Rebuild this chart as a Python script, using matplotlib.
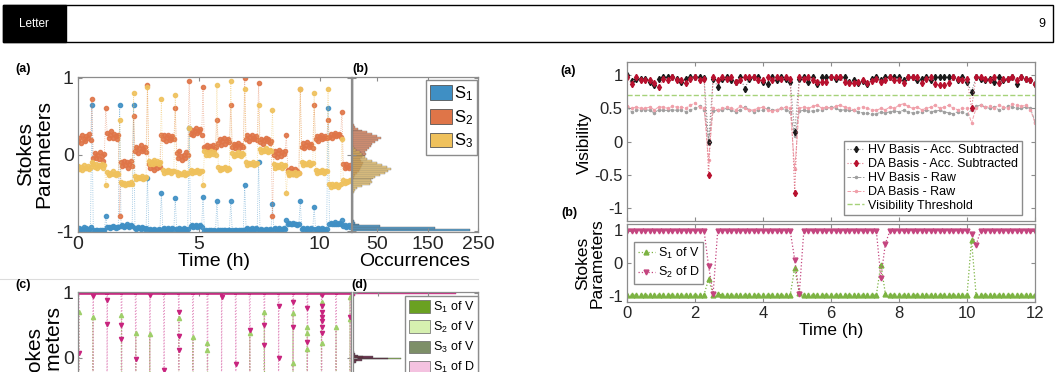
import numpy as np
import matplotlib
matplotlib.use("Agg")
import matplotlib.pyplot as plt
from matplotlib.patches import Rectangle, Patch
from matplotlib.lines import Line2D

plt.rcParams["font.family"] = ["Liberation Sans", "DejaVu Sans"]
plt.rcParams["mathtext.default"] = "regular"
plt.rcParams["axes.unicode_minus"] = False

W, H = 1058, 372

# ---------------- left (a): Stokes parameters over time (10 samples per setting)
step_a = 0.0575
s1 = [
    -0.98, -0.96, -0.97, -0.99, -0.95, -0.97, -0.96, -0.98, -0.97, -0.95,
    0.64, -0.99, -1.0, -0.98, -0.99, -1.0, -0.98, -0.99, -1.0, -0.99,
    -0.8, -0.95, -0.94, -0.96, -0.95, -0.93, -0.95, -0.96, -0.94, -0.95,
    0.64, -0.93, -0.92, -0.94, -0.93, -0.91, -0.93, -0.94, -0.92, -0.93,
    0.65, -0.96, -0.97, -0.95, -0.96, -0.97, -0.95, -0.96, -0.97, -0.96,
    -0.3, -0.98, -0.97, -0.99, -0.98, -0.97, -0.99, -0.98, -0.97, -0.98,
    -0.5, -0.97, -0.96, -0.98, -0.97, -0.96, -0.98, -0.97, -0.96, -0.97,
    -0.57, -0.97, -0.98, -0.96, -0.97, -0.98, -0.96, -0.97, -0.98, -0.97,
    0.35, -0.93, -0.92, -0.94, -0.93, -0.92, -0.94, -0.93, -0.92, -0.94,
    -0.55, -1.0, -0.99, -1.0, -0.99, -1.0, -0.99, -1.0, -0.99, -1.0,
    -0.6, -0.99, -0.98, -1.0, -0.99, -0.98, -0.99, -1.0, -0.98, -0.99,
    -0.6, -0.99, -1.0, -0.98, -0.99, -1.0, -0.98, -0.99, -1.0, -0.99,
    -0.4, -0.97, -0.96, -0.98, -0.97, -0.96, -0.98, -0.97, -0.96, -0.97,
    -0.1, -0.98, -0.97, -0.99, -0.98, -0.97, -0.99, -0.98, -0.97, -0.98,
    -0.65, -0.97, -0.96, -0.98, -0.97, -0.96, -0.98, -0.97, -0.96, -0.97,
    -0.85, -0.9, -0.89, -0.91, -0.9, -0.89, -0.91, -0.9, -0.92, -0.9,
    -0.6, -0.97, -0.96, -0.98, -0.97, -0.96, -0.98, -0.97, -0.96, -0.97,
    -0.68, -0.97, -0.98, -0.96, -0.97, -0.98, -0.96, -0.97, -0.98, -0.97,
    0.6, -0.9, -0.89, -0.91, -0.9, -0.88, -0.9, -0.91, -0.89, -0.9,
    -0.85, -0.93, -0.92, -0.94, -0.93, -0.92, -0.94,
]
s2 = [
    0.18, 0.22, 0.15, 0.25, 0.2, 0.17, 0.24, 0.21, 0.27, 0.19,
    0.72, -0.05, 0.02, -0.04, 0.0, -0.06, 0.03, -0.02, -0.08, 0.01,
    0.6, 0.28, 0.22, 0.25, 0.3, 0.21, 0.27, 0.24, 0.2, 0.26,
    -0.8, -0.1, -0.15, -0.08, -0.14, -0.1, -0.17, -0.12, -0.09, -0.15,
    0.5, 0.05, 0.1, 0.02, 0.08, 0.12, 0.04, 0.07, 0.1, 0.03,
    0.9, -0.12, -0.18, -0.1, -0.15, -0.2, -0.13, -0.17, -0.11, -0.16,
    0.25, 0.2, 0.25, 0.18, 0.23, 0.26, 0.19, 0.22, 0.24, 0.2,
    0.6, 0.02, -0.05, 0.05, -0.02, -0.07, 0.0, -0.04, 0.03, -0.01,
    0.96, 0.27, 0.32, 0.25, 0.3, 0.35, 0.28, 0.31, 0.33, 0.26,
    0.88, 0.1, 0.08, 0.13, 0.06, 0.11, 0.09, 0.12, 0.07, 0.1,
    0.45, 0.15, 0.2, 0.12, 0.18, 0.22, 0.14, 0.17, 0.2, 0.16,
    0.64, 0.1, 0.14, 0.08, 0.12, 0.15, 0.09, 0.13, 0.11, 0.1,
    1.0, 0.2, 0.25, 0.18, 0.23, 0.26, 0.2, 0.22, 0.24, 0.19,
    0.93, 0.16, 0.2, 0.14, 0.19, 0.22, 0.17, 0.2, 0.15, 0.18,
    -0.8, 0.0, 0.05, -0.03, 0.02, 0.06, -0.02, 0.03, 0.01, 0.04,
    0.25, -0.2, -0.25, -0.18, -0.22, -0.26, -0.19, -0.23, -0.21, -0.24,
    0.85, 0.1, 0.15, 0.08, 0.13, 0.16, 0.1, 0.12, 0.14, 0.09,
    0.65, 0.2, 0.24, 0.18, 0.23, 0.25, 0.2, 0.22, 0.24, 0.21,
    0.45, 0.23, 0.27, 0.22, 0.26, 0.28, 0.24, 0.25, 0.27, 0.23,
    0.55, -0.13, -0.17, -0.12, -0.16, -0.18, -0.14,
]
s3 = [
    -0.15, -0.19, -0.16, -0.2, -0.14, -0.18, -0.17, -0.15, -0.19, -0.16,
    -0.1, -0.13, -0.16, -0.12, -0.17, -0.14, -0.15, -0.13, -0.18, -0.14,
    -0.4, -0.23, -0.27, -0.24, -0.26, -0.22, -0.25, -0.27, -0.24, -0.26,
    0.45, -0.36, -0.39, -0.37, -0.4, -0.38, -0.37, -0.39, -0.36, -0.38,
    0.8, -0.28, -0.32, -0.29, -0.31, -0.3, -0.28, -0.32, -0.3, -0.29,
    0.88, -0.08, -0.12, -0.1, -0.13, -0.07, -0.11, -0.09, -0.12, -0.1,
    0.72, -0.2, -0.24, -0.21, -0.23, -0.2, -0.22, -0.24, -0.21, -0.22,
    0.78, -0.23, -0.27, -0.24, -0.26, -0.25, -0.23, -0.27, -0.25, -0.24,
    0.35, -0.2, -0.24, -0.21, -0.23, -0.22, -0.2, -0.24, -0.22, -0.21,
    -0.4, 0.04, 0.0, 0.03, -0.01, 0.02, 0.05, 0.01, 0.03, 0.0,
    0.9, -0.16, -0.2, -0.17, -0.19, -0.18, -0.16, -0.2, -0.17, -0.19,
    0.96, 0.02, -0.02, 0.01, -0.01, 0.03, 0.0, -0.02, 0.02, 0.01,
    0.85, -0.1, -0.14, -0.11, -0.13, -0.12, -0.1, -0.14, -0.12, -0.11,
    0.65, 0.07, 0.03, 0.06, 0.04, 0.08, 0.05, 0.03, 0.06, 0.04,
    0.58, -0.13, -0.17, -0.14, -0.16, -0.15, -0.13, -0.17, -0.15, -0.14,
    -0.5, -0.23, -0.27, -0.24, -0.26, -0.25, -0.23, -0.27, -0.25, -0.24,
    0.86, -0.1, -0.14, -0.11, -0.13, -0.12, -0.1, -0.14, -0.12, -0.11,
    0.8, -0.2, -0.24, -0.21, -0.23, -0.22, -0.2, -0.24, -0.22, -0.21,
    0.85, -0.38, -0.42, -0.39, -0.41, -0.4, -0.38, -0.42, -0.4, -0.39,
    0.2, -0.33, -0.37, -0.34, -0.36, -0.35, -0.33,
]

# ---------------- left (b): histogram counts (bin width 0.025)
bin_w = 0.025
h1_start, h1_counts = -1.0, [
    235, 165, 55, 14, 6, 3, 2, 2, 1, 2, 1, 1, 2, 1, 1, 1, 2, 1, 1, 1,
    1, 2, 1, 1, 1, 1, 1, 2, 1, 1, 1, 1, 1, 1, 2, 1, 1, 1, 1, 1,
    1, 1, 1, 1, 2, 1, 1, 1, 1, 1, 1, 1, 1, 1, 1, 1, 2, 1, 1, 1,
    1, 1, 1, 2, 1, 1, 1, 1, 1, 1, 1, 1, 2, 1, 1, 1, 1, 1, 1, 2,
]
h2_start, h2_counts = -0.3, [
    3, 6, 10, 14, 16, 18, 20, 22, 18, 15, 20, 25, 28, 26,
    30, 33, 38, 40, 45, 52, 57, 50, 40, 30, 20, 12, 6, 3,
]
h3_start, h3_counts = -0.5, [
    3, 6, 10, 20, 35, 40, 38, 42, 45, 55, 65, 72,
    78, 70, 60, 50, 40, 30, 25, 22, 20, 15, 8, 3,
]

# ---------------- left (c): switching-time samples
c_bounds = [0.03, 0.62, 1.2, 1.8, 2.39, 2.97, 3.56, 4.17, 4.76, 5.36,
            5.94, 6.53, 7.11, 7.71, 8.3, 8.9, 9.49, 10.08, 10.68, 11.26]
c_d_spikes = [[0.08], [0.95], [0.89, 0.52], [0.5, 0.29], [-0.02], [0.96], [-0.19],
              [0.7, 0.34, 0.12], [], [], [0.94], [-0.09], [0.43], [0.51, 0.19],
              [0.8, 0.0], [0.86, 0.47], [0.76, 0.25],
              [0.96, 0.79, 0.71, 0.63, 0.56, 0.48, 0.38], [], [0.63]]
c_v_spikes = [[0.7], [0.63], [], [0.66], [0.38], [0.37], [], [0.61], [0.32],
              [0.23, 0.12], [], [], [0.38], [0.71], [], [0.69, -0.08],
              [0.47, 0.38, 0.13], [0.86, 0.23], [0.47], [0.94, 0.59]]

# ---------------- left (d): histogram counts
d_start = -0.1
d_dark_counts = [2, 6, 18, 70, 40, 10, 3, 1]
d_green_counts = [0, 2, 8, 95, 20, 4, 1, 0]
d_top_start, d_top_counts = 0.95, [3, 205]

# ---------------- right (a): visibility, right (b): Stokes parameters
hv_acc = [1.0, 0.92, 0.95, 0.95, 0.95, 0.9, 0.85, 0.95, 0.97, 0.98, 0.97, 0.94, 0.9, 0.95, 0.97, 0.98, 0.97, 0.96,
          0.0,
          0.95, 0.83, 0.95, 0.97, 0.93, 0.9, 0.97, 0.8, 0.95, 0.97, 0.97, 0.9, 0.87, 0.97, 0.93, 0.97, 0.95, 0.9,
          0.15,
          0.95, 0.97, 0.9, 0.97, 0.87, 0.97, 0.98, 0.98, 0.95, 0.97,
          0.97, 0.9, 0.93, 0.88, 0.92, 0.87, 0.95, 0.97, 0.93, 0.97,
          0.98, 0.97, 0.97, 0.93, 0.97, 0.98, 0.93, 0.95, 0.97, 0.93,
          0.97, 0.98, 0.98, 0.97, 0.97, 0.93, 0.97, 0.9,
          0.75,
          0.97, 0.95, 0.93, 0.95, 0.9, 0.97, 0.93, 0.95, 0.98, 0.87, 0.97, 0.95, 0.93, 0.87]
da_acc = [0.98, 0.87, 0.97, 0.93, 0.93, 0.93, 0.88, 0.82, 0.95, 0.93, 0.97, 0.93, 0.93, 0.88, 0.95, 0.97, 0.93, 0.95,
          -0.5,
          0.98, 0.93, 0.97, 0.95, 0.97, 0.9, 0.93, 0.97, 0.98, 0.97, 0.93, 0.93, 0.97, 0.93, 0.98, 0.95, 0.97, 0.95,
          -0.77,
          0.97, 0.95, 0.97, 0.93, 0.9, 0.9, 0.9, 0.97, 0.97, 0.97,
          0.9, 0.88, 0.88, 0.9, 0.93, 0.88, 0.92, 0.95, 0.9, 0.93,
          0.97, 0.93, 0.93, 0.88, 0.97, 0.97, 0.97, 0.88, 0.95, 0.97,
          0.87, 0.85, 0.85, 0.88, 0.97, 0.95, 0.93, 0.95,
          0.5,
          0.98, 0.97, 0.95, 0.93, 0.97, 0.88, 0.95, 0.95, 0.97, 0.93, 0.97, 0.95, 0.93, 0.87]
hv_raw = [0.52, 0.45, 0.47, 0.48, 0.48, 0.47, 0.43, 0.48, 0.47, 0.47, 0.48, 0.47, 0.48, 0.45, 0.48, 0.5, 0.53, 0.48,
          0.02,
          0.46, 0.47, 0.48, 0.5, 0.47, 0.45, 0.48, 0.52, 0.48, 0.45, 0.47, 0.47, 0.5, 0.48, 0.47, 0.5, 0.48, 0.45,
          0.08,
          0.46, 0.47, 0.46, 0.46, 0.47, 0.48, 0.5, 0.52, 0.5, 0.47,
          0.48, 0.47, 0.47, 0.45, 0.43, 0.43, 0.41, 0.42, 0.44, 0.43,
          0.45, 0.46, 0.45, 0.47, 0.45, 0.43, 0.44, 0.45, 0.48, 0.45,
          0.46, 0.47, 0.45, 0.43, 0.42, 0.45, 0.44, 0.41,
          0.48,
          0.53, 0.55, 0.52, 0.5, 0.52, 0.48, 0.5, 0.53, 0.52, 0.5, 0.5, 0.52, 0.5, 0.3]
da_raw = [0.54, 0.5, 0.52, 0.5, 0.5, 0.52, 0.48, 0.52, 0.52, 0.5, 0.53, 0.52, 0.52, 0.5, 0.55, 0.58, 0.52, 0.5,
          -0.28,
          0.5, 0.48, 0.5, 0.52, 0.5, 0.48, 0.53, 0.5, 0.47, 0.48, 0.5, 0.52, 0.48, 0.46, 0.48, 0.5, 0.52, 0.5,
          -0.42,
          0.5, 0.52, 0.5, 0.53, 0.55, 0.5, 0.52, 0.5, 0.53, 0.55,
          0.52, 0.5, 0.48, 0.5, 0.52, 0.5, 0.48, 0.47, 0.5, 0.48,
          0.52, 0.5, 0.55, 0.57, 0.53, 0.5, 0.52, 0.48, 0.5, 0.52,
          0.55, 0.5, 0.52, 0.55, 0.5, 0.48, 0.5, 0.5,
          0.28,
          0.5, 0.55, 0.52, 0.53, 0.5, 0.55, 0.52, 0.5, 0.57, 0.55, 0.53, 0.55, 0.48, 0.28]
vis_threshold = 0.7

s1_of_v = [
    -0.99, -0.99, -0.99, -0.99, -0.99, -0.99, -0.99, -0.99, -0.99, -0.99,
    -0.99, -0.99, -0.99, -0.99, -0.99, -0.99, -0.99, -0.97, -0.5, -0.97,
    -0.95, -0.99, -0.99, -0.99, -0.99, -0.99, -0.99, -0.99, -0.99, -0.99,
    -0.99, -0.99, -0.99, -0.99, -0.99, -0.99, -0.99, -0.15, -0.93, -0.99,
    -0.99, -0.99, -0.99, -0.99, -0.99, -0.99, -0.99, -0.99, -0.99, -0.99,
    -0.99, -0.99, -0.99, -0.99, -0.99, -0.99, -0.05, -0.95, -0.99, -0.99,
    -0.99, -0.99, -0.99, -0.99, -0.99, -0.99, -0.99, -0.99, -0.99, -0.99,
    -0.99, -0.99, -0.99, -0.99, -0.99, -0.99, 0.7, -0.97, -0.99, -0.99,
    -0.99, -0.99, -0.99, -0.99, -0.99, -0.99, -0.99, -0.99, -0.99, -0.99,
    -0.99,
]
s2_of_d = [
    0.99, 0.99, 0.99, 0.99, 0.99, 0.99, 0.99, 0.99, 0.99, 0.99,
    0.99, 0.99, 0.99, 0.99, 0.99, 0.99, 0.99, 0.99, -0.1, -0.95,
    0.99, 0.99, 0.99, 0.99, 0.99, 0.99, 0.99, 0.99, 0.99, 0.99,
    0.99, 0.99, 0.99, 0.99, 0.99, 0.99, 0.99, 0.1, -0.95, 0.99,
    0.99, 0.99, 0.99, 0.99, 0.99, 0.99, 0.99, 0.99, 0.99, 0.99,
    0.99, 0.99, 0.99, 0.99, 0.99, 0.99, -0.45, 0.6, 0.99, 0.99,
    0.99, 0.99, 0.99, 0.99, 0.99, 0.99, 0.99, 0.99, 0.99, 0.99,
    0.99, 0.99, 0.99, 0.99, 0.99, 0.99, 0.9, 0.55, 0.99, 0.99,
    0.99, 0.99, 0.99, 0.99, 0.99, 0.99, 0.99, 0.99, 0.99, 0.99,
    0.99,
]

C_S1, C_S2, C_S3 = "#3f8fc4", "#df7548", "#efc15c"
EDGE = "#8c8c8c"


def px_axes(fig, l, t, r, b):
    """axes from pixel box (left, top, right, bottom)"""
    return fig.add_axes([l / W, 1 - b / H, (r - l) / W, (b - t) / H])


def style(ax, size):
    for s in ax.spines.values():
        s.set_color(EDGE)
        s.set_linewidth(0.9)
    ax.tick_params(direction="in", top=True, right=True, length=3, width=0.8,
                   color=EDGE, labelcolor="#262626", labelsize=size, pad=3)


def hbars(ax, start, counts, **kw):
    centers = start + bin_w * (np.arange(len(counts)) + 0.5)
    ax.barh(centers, counts, height=bin_w, **kw)


LEG = dict(fancybox=False, edgecolor=EDGE, framealpha=1, borderaxespad=0)

fig = plt.figure(figsize=(W / 100, H / 100), dpi=100)

# header bar
fig.add_artist(Rectangle((3 / W, 1 - 42 / H), 1050 / W, 37 / H, transform=fig.transFigure,
                         fill=False, ec="black", lw=1))
fig.add_artist(Rectangle((3 / W, 1 - 42 / H), 63 / W, 37 / H, transform=fig.transFigure,
                         fc="black", ec="black", lw=1))
fig.text(34 / W, 1 - 24 / H, "Letter", color="white", ha="center", va="center", fontsize=8.5)
fig.text(1042 / W, 1 - 24 / H, "9", ha="center", va="center", fontsize=9)
fig.add_artist(Line2D([0, 478 / W], [1 - 279 / H, 1 - 279 / H], color="#dcdcdc", lw=0.8))

# ---- left (a)
ax = px_axes(fig, 78, 77, 351, 232)
t_a = np.arange(len(s1)) * step_a
for vals, col in [(s1, C_S1), (s2, C_S2), (s3, C_S3)]:
    ax.plot(t_a, vals, ls=":", lw=0.6, color=col, alpha=0.6)
    ax.plot(t_a, vals, ls="none", marker="o", ms=3, mfc=col, mec=col, alpha=0.9)
ax.set_xlim(0, 11.3)
ax.set_ylim(-1.01, 1.01)
ax.set_xticks([0, 5, 10])
ax.set_yticks([-1, 0, 1])
style(ax, 14)
ax.set_xlabel("Time (h)", fontsize=14, labelpad=0)
ax.set_ylabel("Stokes\nParameters", fontsize=15, linespacing=0.95)
ax.yaxis.set_label_coords(-0.09, 0.5)

# ---- left (b)
ax = px_axes(fig, 352, 77, 478, 232)
hbars(ax, h1_start, h1_counts, color=C_S1, alpha=0.85, ec="#4d4d4d", lw=0.3)
hbars(ax, h2_start, h2_counts, color=C_S2, alpha=0.7, ec="#4d4d4d", lw=0.3)
hbars(ax, h3_start, h3_counts, color=C_S3, alpha=0.7, ec="#4d4d4d", lw=0.3)
ax.set_xlim(0, 250)
ax.set_ylim(-1.01, 1.01)
ax.set_xticks([50, 150, 250])
ax.set_yticks([-1, 0, 1])
ax.set_yticklabels([])
style(ax, 14)
ax.set_xlabel("Occurrences", fontsize=14, labelpad=0)
handles = [Patch(fc=c, ec="#555555", lw=0.6) for c in (C_S1, C_S2, C_S3)]
ax.legend(handles, ["S$_1$", "S$_2$", "S$_3$"], loc="upper right", bbox_to_anchor=(0.995, 0.98),
          fontsize=12, handlelength=1.3, handleheight=1.0, labelspacing=0.3, borderpad=0.25,
          handletextpad=0.15, **LEG)

# ---- left (c)
ax = px_axes(fig, 78, 292, 351, 425)
d_t, d_v, v_t, v_v = [], [], [], []
for b, sp in zip(c_bounds, c_d_spikes):
    d_t += [b - 0.02] + [b] * len(sp) + [b, b + 0.02]
    d_v += [1.0] + sp + [-1.0, 1.0]
for b, sp in zip(c_bounds, c_v_spikes):
    v_t += [b - 0.02] + [b] * len(sp) + [b + 0.02]
    v_v += [-1.0] + sp + [-1.0]
d_v = np.array(d_v)
ax.plot(v_t, v_v, ls=":", lw=0.8, color="#8cc04a", alpha=0.9)
ax.plot(d_t, d_v, ls=":", lw=0.8, color="#e28bbd", alpha=0.9)
ax.plot(d_t, np.where(d_v == 1.0, d_v, np.nan), ls="-", lw=2.6, color="#c8247e")
sp_t = [b for b, sp in zip(c_bounds, c_v_spikes) for _ in sp]
sp_v = [v for sp in c_v_spikes for v in sp]
ax.plot(sp_t, sp_v, ls="none", marker="^", ms=3, color="#9fcf6a")
sp_t = [b for b, sp in zip(c_bounds, c_d_spikes) for _ in sp]
sp_v = [v for sp in c_d_spikes for v in sp]
ax.plot(sp_t, sp_v, ls="none", marker="v", ms=3, color="#c8247e")
ax.set_xlim(0, 11.3)
ax.set_ylim(-1.03, 1.01)
ax.set_yticks([0, 1])
ax.set_xticks([0, 5, 10])
ax.set_xticklabels([])
style(ax, 14)
ax.set_ylabel("Stokes\nParameters", fontsize=15, linespacing=0.95)
ax.yaxis.set_label_coords(-0.058, 0.5)

# ---- left (d)
ax = px_axes(fig, 353, 292, 478, 425)
hbars(ax, d_top_start, d_top_counts, color="#c8247e", alpha=0.9, ec="#c8247e", lw=0.3)
hbars(ax, d_start, d_green_counts, color="#8cc04a", alpha=0.9, ec="#4d4d4d", lw=0.3)
hbars(ax, d_start, d_dark_counts, color="#5a1838", alpha=0.85, ec="#4d4d4d", lw=0.3)
ax.set_xlim(0, 250)
ax.set_ylim(-1.03, 1.01)
ax.set_yticks([0, 1])
ax.set_yticklabels([])
ax.set_xticks([50, 150, 250])
ax.set_xticklabels([])
style(ax, 14)
d_cols = ["#6aa121", "#d6f0b0", "#7d8f68", "#f4c2e0", "#c8247e", "#5a1838"]
d_labs = ["S$_1$ of V", "S$_2$ of V", "S$_3$ of V", "S$_1$ of D", "S$_2$ of D", "S$_3$ of D"]
handles = [Patch(fc=c, ec="#666666", lw=0.5) for c in d_cols]
ax.legend(handles, d_labs, loc="upper right", bbox_to_anchor=(1.0, 0.97), fontsize=9,
          handlelength=1.7, handleheight=1.15, labelspacing=0.4, borderpad=0.3,
          handletextpad=0.2, **LEG)

# ---- right (a)
ax = px_axes(fig, 627, 62, 1035, 221)
t_r = np.linspace(0, 12, len(hv_acc))
ax.plot(t_r, hv_raw, ls="--", lw=0.7, color="#a0a0a0", marker=".", ms=3, label="HV Basis - Raw")
ax.plot(t_r, da_raw, ls="--", lw=0.7, color="#f0a0aa", marker=".", ms=3, label="DA Basis - Raw")
ax.plot(t_r, hv_acc, ls=":", lw=0.8, color="#8a8a8a", marker="d", ms=3.2,
        mfc="#1a1a1a", mec="#1a1a1a", label="HV Basis - Acc. Subtracted")
ax.plot(t_r, da_acc, ls=":", lw=0.8, color="#e07a8a", marker="d", ms=3.2,
        mfc="#b8102e", mec="#b8102e", label="DA Basis - Acc. Subtracted")
ax.axhline(vis_threshold, ls="--", lw=1, color="#a6d27a", label="Visibility Threshold")
ax.set_xlim(0, 12)
ax.set_ylim(-1.2, 1.2)
ax.set_xticks(np.arange(0, 13, 2))
ax.set_xticklabels([])
yt = [-1, -0.5, 0, 0.5, 1]
ax.set_yticks(yt)
ax.set_yticklabels(["%g" % v for v in yt])
style(ax, 12)
ax.set_ylabel("Visibility", fontsize=12.5)
ax.yaxis.set_label_coords(-0.085, 0.49)
h, l = ax.get_legend_handles_labels()
order = [2, 3, 0, 1, 4]
ax.legend([h[i] for i in order], [l[i] for i in order], loc="lower right",
          bbox_to_anchor=(0.968, 0.038), fontsize=9, handlelength=1.4, labelspacing=0.15,
          borderpad=0.25, handletextpad=0.3, **LEG)

# ---- right (b)
ax = px_axes(fig, 627, 224, 1035, 302)
t_r = np.linspace(0, 12, len(s1_of_v))
ax.plot(t_r, s1_of_v, ls=":", lw=0.9, color="#7cb342", marker="^", ms=3.5, label="S$_1$ of V")
ax.plot(t_r, s2_of_d, ls=":", lw=0.9, color="#c4457f", marker="v", ms=3.5, label="S$_2$ of D")
ax.set_xlim(0, 12)
ax.set_ylim(-1.2, 1.2)
ax.set_xticks(np.arange(0, 13, 2))
ax.set_yticks([-1, 0, 1])
style(ax, 12)
ax.set_xlabel("Time (h)", fontsize=12.5, labelpad=1)
ax.set_ylabel("Stokes\nParameters", fontsize=12.5, linespacing=0.95)
ax.yaxis.set_label_coords(-0.054, 0.5)
ax.legend(loc="upper left", bbox_to_anchor=(0.017, 0.77), fontsize=9, handlelength=1.4,
          labelspacing=0.35, borderpad=0.3, handletextpad=0.2, **LEG)

# panel letters
for x, y, s in [(23, 69, "(a)"), (360, 69, "(b)"), (23, 285, "(c)"), (359, 285, "(d)"),
                (568, 71, "(a)"), (569, 213, "(b)")]:
    fig.text(x / W, 1 - y / H, s, ha="center", va="center", fontsize=9, fontweight="bold")

fig.savefig("out.png", dpi=100)
